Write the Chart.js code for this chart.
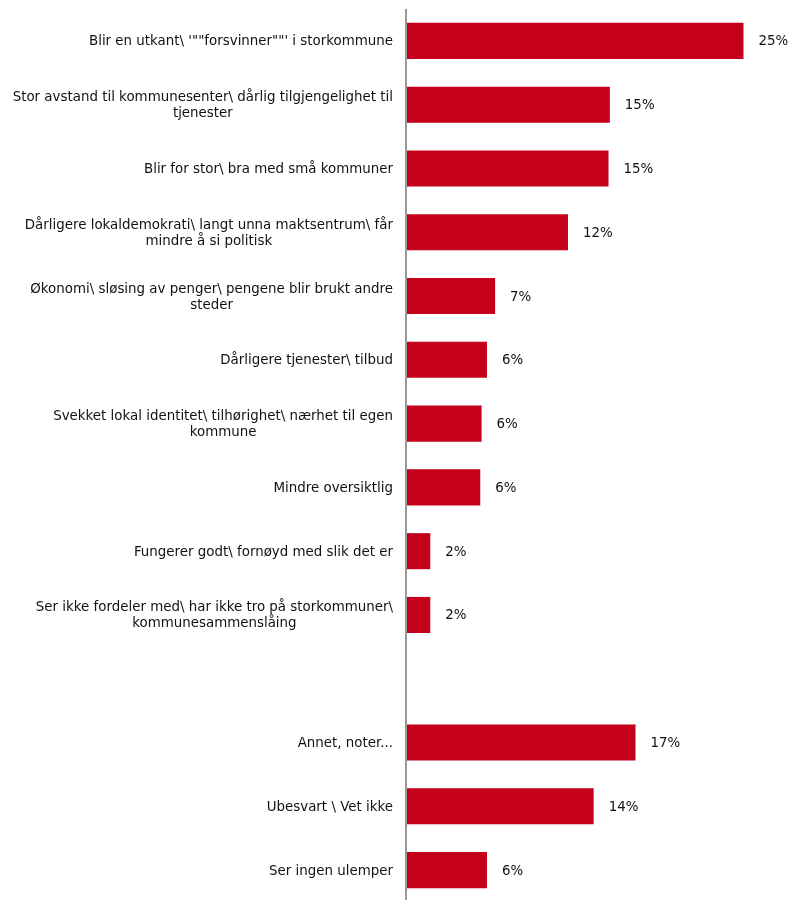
<!DOCTYPE html>
<html>
<head>
<meta charset="utf-8">
<script src="https://cdn.jsdelivr.net/npm/chart.js@4"></script>
<style>
  html, body { margin: 0; padding: 0; background: #fff; overflow: hidden; }
  #wrap { width: 792px; height: 902px; position: relative; }
</style>
</head>
<body>
<div id="wrap"><canvas id="chart"></canvas></div>
<script>
// ===== DATA =====
const categories = [
  ["Blir en utkant\\ '\"\"forsvinner\"\"' i storkommune"],
  ["Stor avstand til kommunesenter\\ dårlig tilgjengelighet til", "tjenester"],
  ["Blir for stor\\ bra med små kommuner"],
  ["Dårligere lokaldemokrati\\ langt unna maktsentrum\\ får", "mindre å si politisk"],
  ["Økonomi\\ sløsing av penger\\ pengene blir brukt andre", "steder"],
  ["Dårligere tjenester\\ tilbud"],
  ["Svekket lokal identitet\\ tilhørighet\\ nærhet til egen", "kommune"],
  ["Mindre oversiktlig"],
  ["Fungerer godt\\ fornøyd med slik det er"],
  ["Ser ikke fordeler med\\ har ikke tro på storkommuner\\", "kommunesammenslåing"],
  [""],
  ["Annet, noter..."],
  ["Ubesvart \\ Vet ikke"],
  ["Ser ingen ulemper"]
];
const values = [25.0, 15.1, 15.0, 12.0, 6.6, 6.0, 5.6, 5.5, 1.8, 1.8, null, 17.0, 13.9, 6.0];

const FONT = "DejaVu Sans, Verdana, sans-serif";

// ===== PLUGIN: labels left, values right =====
const textPlugin = {
  id: "texts",
  afterDatasetsDraw(chart) {
    const ctx = chart.ctx;
    const yScale = chart.scales.y;
    const meta = chart.getDatasetMeta(0);
    ctx.save();
    ctx.font = "13.4px " + FONT;
    ctx.fillStyle = "#111111";
    ctx.textBaseline = "middle";

    // category labels, centered block right-aligned to axis
    categories.forEach((lines, i) => {
      const yc = yScale.getPixelForValue(i) + 1;
      const maxW = Math.max(...lines.map(l => ctx.measureText(l).width));
      const cx = chart.chartArea.left - 13 - maxW / 2;
      const lh = 16;
      const y0 = yc - (lines.length - 1) * lh / 2;
      ctx.textAlign = "center";
      lines.forEach((l, k) => ctx.fillText(l, cx, y0 + k * lh));
    });

    // value labels
    ctx.textAlign = "left";
    meta.data.forEach((bar, i) => {
      if (values[i] == null) return;
      ctx.fillText(Math.round(values[i]) + "%", bar.x + 15, bar.y + 1);
    });
    ctx.restore();
  }
};

// ===== CHART =====
const chart = new Chart(document.getElementById("chart"), {
  type: "bar",
  data: {
    labels: categories,
    datasets: [{
      data: values,
      backgroundColor: "#c4001a",
      borderWidth: 0,
      barPercentage: 0.565,
      categoryPercentage: 1
    }]
  },
  options: {
    indexAxis: "y",
    responsive: true,
    maintainAspectRatio: false,
    animation: false,
    layout: { padding: { left: 406, right: 8, top: 9, bottom: 0 } },
    plugins: { legend: { display: false }, tooltip: { enabled: false } },
    scales: {
      x: {
        min: 0,
        max: 28,
        ticks: { display: false },
        border: { display: false },
        grid: {
          drawTicks: false,
          lineWidth: 2,
          color: c => c.tick && c.tick.value === 0 ? "#999999" : "rgba(0,0,0,0)"
        }
      },
      y: { display: false }
    }
  },
  plugins: [textPlugin]
});
</script>
</body>
</html>
